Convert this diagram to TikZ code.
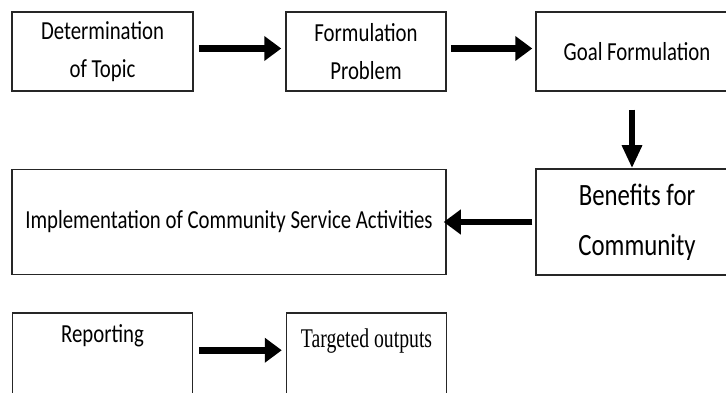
\documentclass[tikz,border=0pt]{standalone}
\usepackage{fontspec}
\setmainfont{Carlito}[FakeStretch=0.8]
\newfontfamily\outfont{Liberation Serif}[FakeStretch=0.73]
\usetikzlibrary{positioning, arrows.meta}

\tikzset{
  stage/.style = {rectangle, draw=black!85, line width=1.5pt, align=center,
    inner sep=0pt, font=\fontsize{26}{38}\selectfont},
  topped/.style = {text height=25pt, text depth=74pt, inner ysep=4pt},
  flow/.style = {line width=6.5pt, -{Triangle[length=17pt, width=24pt]}}
}
% the right column runs off the page, so its text is pushed left
\newcommand{\cutoff}{\hspace*{60pt}}

\begin{document}
\begin{tikzpicture}[x=1pt, y=-1pt, node distance=100pt, on grid]
  \useasboundingbox (0,0) rectangle (726,393);
  \node[stage, minimum width=181pt, minimum height=79pt] (topic) at (102.5,51.5)
    {Determination\\of Topic};
  \node[stage, minimum width=160pt, minimum height=79pt] [right=263.5pt of topic] (problem)
    {Formulation\\Problem};
  \node[stage, minimum width=262pt, minimum height=79pt] [right=301pt of problem] (goal)
    {Goal Formulation\cutoff};
  \node[stage, minimum width=262pt, minimum height=106pt, font=\fontsize{31}{50}\selectfont]
    [below=170.5pt of goal] (benefit) {Benefits for\cutoff\\Community\cutoff};
  \node[stage, minimum width=434pt, minimum height=105pt] [left=438pt of benefit] (impl)
    {Implementation of Community Service Activities};
  \node[stage, topped, minimum width=180pt] [below=315pt of topic] (report) {Reporting};
  \node[stage, topped, minimum width=160pt, text height=30pt, text depth=69pt,
    font=\outfont\fontsize{27}{30}\selectfont] [right=264pt of report] (outputs)
    {Targeted outputs};
  % arrows
  \draw[flow, shorten <=5pt, shorten >=4pt]
    ([yshift=3pt]topic.east) -- ([yshift=3pt]problem.west);
  \draw[flow, shorten <=4pt, shorten >=3pt]
    ([yshift=3pt]problem.east) -- ([yshift=3pt]goal.west);
  \draw[flow, line width=6pt, -{Triangle[length=23pt, width=19pt]}, shorten <=18pt]
    ([xshift=-35pt]goal.south) -- ([xshift=-35pt]benefit.north);
  \draw[flow, shorten <=3pt, shorten >=-3pt] (benefit) -- (impl);
  \draw[flow, shorten <=6pt, shorten >=4pt]
    ([yshift=-38pt]report.north east) -- ([yshift=-38pt]outputs.north west);
\end{tikzpicture}
\end{document}
